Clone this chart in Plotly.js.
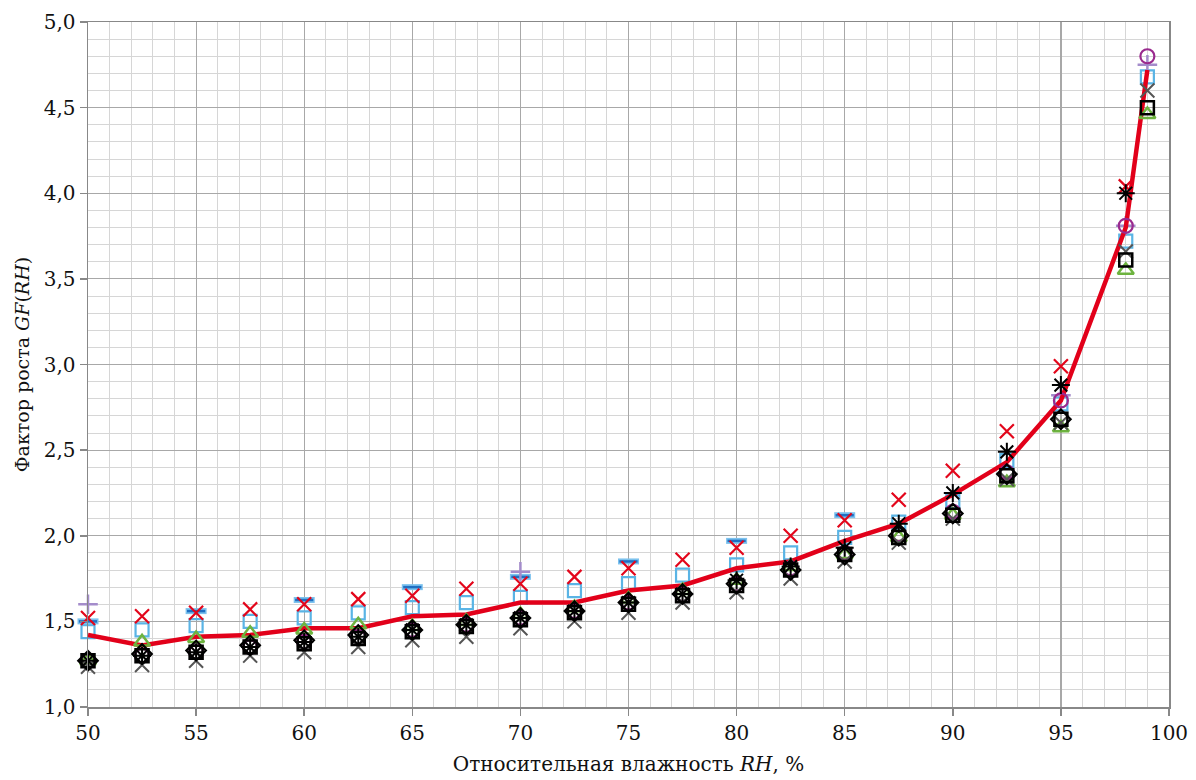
<!DOCTYPE html>
<html>
<head>
<meta charset="utf-8">
<script src="https://cdn.plot.ly/plotly-3.0.1.min.js"></script>
<style>html,body{margin:0;padding:0;background:#fff;}#chart{width:1196px;height:780px;}</style>
</head>
<body>
<div id="chart"></div>
<script>
// Relative humidity, %
const rh = [50,52.5,55,57.5,60,62.5,65,67.5,70,72.5,75,77.5,80,82.5,85,87.5,90,92.5,95,98,99];
// Model curve (red line)
const gfModel = [1.42,1.36,1.41,1.42,1.46,1.46,1.53,1.54,1.61,1.61,1.68,1.71,1.81,1.85,1.97,2.07,2.24,2.43,2.79,3.80,4.72];
// Measurement series
const gfRedX = [1.52,1.53,1.55,1.57,1.60,1.63,1.65,1.69,1.72,1.76,1.81,1.86,1.93,2.00,2.09,2.21,2.38,2.61,2.99,4.04,null];
const gfBlueDash = [1.50,null,1.56,null,1.625,null,1.70,null,1.76,null,1.85,null,1.97,null,2.12,null,null,null,null,null,null];
const gfLightSquare = [1.44,1.45,1.475,1.50,1.52,1.55,1.58,1.61,1.64,1.68,1.72,1.77,1.83,1.90,1.99,2.08,2.20,2.44,2.77,3.72,4.68];
const gfPurplePlus = [1.60,null,null,null,null,null,null,null,1.79,null,null,null,null,null,null,null,null,null,2.82,3.81,4.75];
const gfPurpleCircle = [1.27,1.30,1.32,1.35,1.38,1.41,1.45,1.48,1.52,1.56,1.61,1.66,1.72,1.81,1.90,2.01,2.14,2.37,2.79,3.81,4.80];
const gfGreenTriangle = [1.27,1.38,1.40,1.43,1.45,1.48,1.47,1.50,1.54,1.58,1.63,1.68,1.74,1.82,1.89,1.99,2.12,2.31,2.63,3.55,4.46];
const gfGrayX = [1.235,1.245,1.27,1.30,1.32,1.35,1.39,1.41,1.46,1.50,1.55,1.61,1.67,1.75,1.85,1.96,2.10,2.33,2.66,3.66,4.60];
const gfBlackSquare = [1.27,1.30,1.32,1.35,1.37,1.40,1.44,1.47,1.51,1.55,1.60,1.65,1.71,1.80,1.89,1.99,2.12,2.35,2.68,3.61,4.50];
const gfBlackDiamond = [1.27,1.31,1.33,1.36,1.39,1.42,1.45,1.48,1.52,1.56,1.61,1.66,1.72,1.80,1.89,2.00,2.13,2.36,2.68,null,null];
const gfBlackAsterisk = [1.27,1.30,1.32,1.35,1.38,1.41,1.45,1.48,1.52,1.56,1.61,1.66,1.74,1.82,1.93,2.07,2.25,2.49,2.88,4.00,null];

function pts(y, symbol, size, color, width) {
  return {x: rh, y: y, type: 'scatter', mode: 'markers', hoverinfo: 'skip', showlegend: false, cliponaxis: false,
    marker: {symbol: symbol, size: size, color: color, line: {color: color, width: width}}};
}

const traces = [
  pts(gfLightSquare, 'square-open', 13, '#5ab4e5', 2.2),
  pts(gfBlueDash, 'line-ew-open', 15, '#7cc2ee', 6),
  pts(gfBlueDash, 'line-ew-open', 13, '#1f6fc2', 2.5),
  pts(gfRedX, 'x-thin-open', 14, '#e3061b', 2.2),
  pts(gfPurplePlus, 'cross-thin-open', 14, '#a48ccb', 2.5),
  {x: rh, y: gfModel, type: 'scatter', mode: 'lines', hoverinfo: 'skip', showlegend: false,
   line: {color: '#e2001a', width: 4.5}},
  pts(gfGreenTriangle, 'triangle-up-open', 14, '#6db33f', 2.5),
  pts(gfPurpleCircle, 'circle-open', 14, '#9a2a8e', 2.2),
  pts(gfGrayX, 'x-thin-open', 14, '#555555', 2),
  pts(gfBlackSquare, 'square-open', 13, '#000000', 2.5),
  pts(gfBlackDiamond, 'diamond-open', 15, '#000000', 2.2),
  pts(gfBlackAsterisk, 'asterisk-open', 15, '#000000', 2)
];

const font = "DejaVu Serif, serif";
const layout = {
  width: 1196, height: 780,
  margin: {l: 88, r: 27, t: 22, b: 73},
  paper_bgcolor: '#ffffff', plot_bgcolor: '#ffffff',
  separators: ', ',
  font: {family: font, color: '#111', size: 20},
  xaxis: {
    range: [50, 100], dtick: 5, tick0: 50,
    showgrid: true, gridcolor: '#a8a8a8', gridwidth: 1.2,
    minor: {dtick: 1, showgrid: true, gridcolor: '#d6d6d6', gridwidth: 1},
    ticks: 'outside', ticklen: 7, tickcolor: '#888', tickwidth: 1.5,
    showline: true, linecolor: '#888', linewidth: 1.5, mirror: true,
    zeroline: false,
    tickfont: {family: font, size: 20, color: '#111'},
    title: {text: 'Относительная влажность <i>RH</i>, %', font: {family: font, size: 20, color: '#111'}, standoff: 13}
  },
  yaxis: {
    range: [1, 5], dtick: 0.5, tick0: 1, tickformat: '.1f',
    showgrid: true, gridcolor: '#a8a8a8', gridwidth: 1.2,
    minor: {dtick: 0.1, showgrid: true, gridcolor: '#d6d6d6', gridwidth: 1},
    ticks: 'outside', ticklen: 7, tickcolor: '#888', tickwidth: 1.5,
    showline: true, linecolor: '#888', linewidth: 1.5, mirror: true,
    zeroline: false,
    tickfont: {family: font, size: 20, color: '#111'},
    title: {text: 'Фактор роста <i>GF</i>(<i>RH</i>)', font: {family: font, size: 19, color: '#111'}, standoff: 9}
  }
};

Plotly.newPlot('chart', traces, layout, {staticPlot: true, displayModeBar: false});
</script>
</body>
</html>
